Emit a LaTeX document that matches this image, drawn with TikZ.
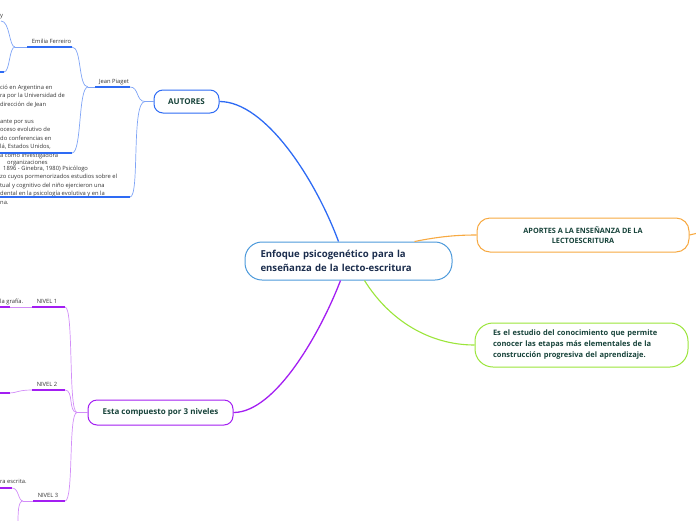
\documentclass[tikz,border=0pt]{standalone}
\usepackage{fontspec}
\setmainfont{Open Sans}
\usetikzlibrary{positioning}
\definecolor{ramaazul}{HTML}{2E6BF4}
\definecolor{azulclaro}{HTML}{7FA4F6}
\definecolor{bordecentro}{HTML}{4D9ADB}
\definecolor{ramamorada}{HTML}{A31EF2}
\definecolor{moradaclara}{HTML}{D28DF8}
\definecolor{ramanaranja}{HTML}{F7A941}
\definecolor{ramaverde}{HTML}{9BE53A}
\definecolor{verdetexto}{HTML}{17433A}
\definecolor{azultexto}{HTML}{1B2D4D}
\definecolor{gristexto}{HTML}{333333}
\begin{document}
\begin{tikzpicture}[x=1pt,y=-1pt,
	centro/.style={draw=bordecentro, fill=white, line width=1pt, rounded corners=17pt, minimum width=207pt, minimum height=38pt, text width=176pt, inner xsep=15.5pt, align=left, font=\bfseries\fontsize{9.6}{14.5}\selectfont, text=azultexto},
	tema/.style={draw, fill=white, line width=1pt, rounded corners=9pt, inner sep=0pt, align=center, font=\bfseries\fontsize{8}{9}\selectfont, text=verdetexto},
	etiqueta/.style={inner sep=0pt, anchor=base, font=\fontsize{5.8}{6.5}\selectfont, text=gristexto},
	linea/.style={inner sep=0pt, anchor=base west, font=\fontsize{5.8}{6.5}\selectfont, text=gristexto},
	bloque/.style={inner sep=0pt, anchor=north west, align=left, font=\fontsize{5.8}{8.5}\selectfont, text=gristexto},
	subazul/.style={draw=azulclaro, line width=.7pt},
	gruesoazul/.style={draw=ramaazul, line width=1.3pt},
	submorada/.style={draw=moradaclara, line width=.7pt},
	gruesomorado/.style={draw=ramamorada, line width=1.3pt}]
	\useasboundingbox (0,0) rectangle (696,520);
	\clip (0,0) rectangle (696,520);

	\node[centro] (centro) at (348.5,261) {Enfoque psicogenético para la\\enseñanza de la lecto-escritura};
	\node[tema, draw=ramaazul, minimum width=65pt, minimum height=23pt] (autores) at (186.5,101.5) {AUTORES};
	\node[tema, draw=ramamorada, minimum width=145pt, minimum height=25pt] (niveles) at (160.5,412.5) {Esta compuesto por 3 niveles};
	\node[tema, draw=ramanaranja, minimum width=212pt, minimum height=34pt, rounded corners=13pt, font=\bfseries\fontsize{7.3}{10}\selectfont] (aportes) at (583,235) {APORTES A LA ENSEÑANZA DE LA\\LECTOESCRITURA};
	\node[tema, draw=ramaverde, minimum width=213pt, minimum height=44pt, rounded corners=18pt, text width=177pt, align=left, font=\bfseries\fontsize{7.5}{11}\selectfont] (estudio) at (581.5,345) {Es el estudio del conocimiento que permite\\conocer las etapas más elementales de la\\construcción progresiva del aprendizaje.};

	\draw[ramaazul, line width=1.3pt] (autores.east) .. controls +(46,0) and +(-23,-62) .. ([xshift=-10pt]centro.north);
	\draw[ramamorada, line width=1.3pt] (niveles.east) .. controls +(42,0) and +(-20,52) .. ([xshift=-8pt]centro.south);
	\draw[ramaverde, line width=1.1pt] (estudio.west) .. controls +(-45,0) and +(25,40) .. ([xshift=16pt]centro.south);
	\draw[ramanaranja, line width=1.1pt] (aportes.west) .. controls +(-20,0) and +(25,-5) .. ([xshift=66pt]centro.north);
	\coordinate (finaportes) at (698,233);
	\draw[ramanaranja, line width=1.1pt] (aportes.east) -- (finaportes);

	\node[etiqueta] (piaget) at (114,83) {Jean Piaget};
	\node[etiqueta] (emilia) at (51.5,43) {Emilia Ferreiro};
	\node[linea] (cola) at (0,17) {y};
	\node[bloque] (bioemilia) at (0,84.6) {ció en Argentina en\\ra por la Universidad de\\dirección de Jean\\[8.5pt]ante por sus\\oceso evolutivo de\\do conferencias en\\lá, Estados Unidos,\\a como investigadora};
	\node[linea] (organiza) at (7,164.5) {organizaciones};
	\node[linea] (nacimiento) at (3,170) {1896 - Ginebra, 1980) Psicólogo};
	\node[bloque] (biopiaget) at (0,174.3) {zo cuyos pormenorizados estudios sobre el\\tual y cognitivo del niño ejercieron una\\dental en la psicología evolutiva y en la\\na.};

	\coordinate (jAut) at (145,101.5);
	\coordinate (jPia) at (88,87);
	\coordinate (jEmi) at (15,47);
	\coordinate (piagetL) at (95,87);
	\coordinate (piagetR) at (130,87);
	\coordinate (emiliaL) at (27,47);
	\coordinate (emiliaR) at (72,47);
	\coordinate (bioemiliaL) at (-5,153);
	\coordinate (bioemiliaR) at (72,153);
	\coordinate (biopiagetL) at (-5,197);
	\coordinate (biopiagetR) at (130,197);
	\coordinate (arribaR) at (1,21);
	\coordinate (abajoL) at (-5,72);
	\coordinate (abajoR) at (4,72);

	\draw[subazul] (autores.west) -- (jAut);
	\draw[subazul] (piagetR) .. controls +(9,0) and +(-9,0) .. (jAut);
	\draw[subazul] (biopiagetR) .. controls +(10,0) and +(-14,0) .. (jAut);
	\draw[subazul] (jPia) -- (piagetL);
	\draw[subazul] (emiliaR) .. controls +(10,0) and +(-10,0) .. (jPia);
	\draw[subazul] (bioemiliaR) .. controls +(10,0) and +(-10,0) .. (jPia);
	\draw[subazul] (jEmi) -- (emiliaL);
	\draw[subazul] (arribaR) .. controls +(9,0) and +(-6,0) .. (jEmi);
	\draw[subazul] (abajoR) .. controls +(6,0) and +(-6,0) .. (jEmi);
	\draw[gruesoazul] (piagetL) -- (piagetR);
	\draw[gruesoazul] (emiliaL) -- (emiliaR);
	\draw[gruesoazul] (bioemiliaL) -- (bioemiliaR);
	\draw[gruesoazul] (biopiagetL) -- (biopiagetR);
	\draw[gruesoazul] (abajoL) -- (abajoR);

	\node[etiqueta] (nivel1) at (47,303) {NIVEL 1};
	\node[etiqueta] (nivel2) at (47,386) {NIVEL 2};
	\node[etiqueta] (nivel3) at (48,497) {NIVEL 3};
	\node[linea] (grafia) at (0,303) {la grafía.};
	\node[linea] (escrita) at (0,483) {ra escrita.};

	\coordinate (jNiv) at (77,412.5);
	\coordinate (jN3) at (23,501);
	\coordinate (nivel1L) at (32,307);
	\coordinate (nivel1R) at (65,307);
	\coordinate (nivel2L) at (32,390);
	\coordinate (nivel2R) at (65,390);
	\coordinate (nivel3L) at (33,501);
	\coordinate (nivel3R) at (65,501);
	\coordinate (grafiaL) at (-5,307);
	\coordinate (grafiaR) at (10,307);
	\coordinate (hijo2L) at (-5,393);
	\coordinate (hijo2R) at (10,393);
	\coordinate (escritaL) at (-5,488);
	\coordinate (escritaR) at (12,488);
	\coordinate (salida) at (18,525);

	\draw[submorada] (niveles.west) -- (jNiv);
	\draw[submorada] (nivel1R) .. controls +(9,0) and +(-9,0) .. (jNiv);
	\draw[submorada] (nivel2R) .. controls +(9,0) and +(-9,0) .. (jNiv);
	\draw[submorada] (nivel3R) .. controls +(9,0) and +(-9,0) .. (jNiv);
	\draw[submorada] (grafiaR) -- (nivel1L);
	\draw[submorada] (hijo2R) .. controls +(6,0) and +(-14,0) .. (nivel2L);
	\draw[submorada] (jN3) -- (nivel3L);
	\draw[submorada] (escritaR) .. controls +(7,0) and +(-5,0) .. (jN3);
	\draw[submorada] (jN3) .. controls +(-5,0) and +(0,-12) .. (salida);
	\draw[gruesomorado] (nivel1L) -- (nivel1R);
	\draw[gruesomorado] (nivel2L) -- (nivel2R);
	\draw[gruesomorado] (nivel3L) -- (nivel3R);
	\draw[gruesomorado] (grafiaL) -- (grafiaR);
	\draw[gruesomorado] (hijo2L) -- (hijo2R);
	\draw[gruesomorado] (escritaL) -- (escritaR);
\end{tikzpicture}
\end{document}
